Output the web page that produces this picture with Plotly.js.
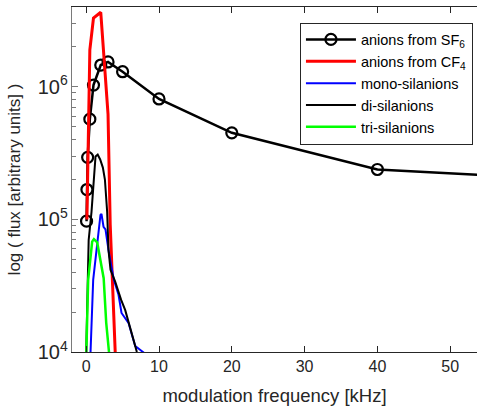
<!DOCTYPE html>
<html>
<head>
<meta charset="utf-8">
<script src="https://cdn.plot.ly/plotly-3.0.1.min.js"></script>
<style>
  html, body { margin: 0; padding: 0; background: #fff; overflow: hidden; }
  #chart { width: 477px; height: 409px; }
</style>
</head>
<body>
<div id="chart"></div>
<script>
// Modulation frequency (kHz) and measured flux (arbitrary units)
const sf6Freq = [0.05, 0.1, 0.2, 0.5, 1, 2, 3, 5, 10, 20, 40, 60];
const sf6Flux = [9.7e4, 1.68e5, 2.94e5, 5.7e5, 1.03e6, 1.46e6, 1.54e6, 1.3e6, 8.1e5, 4.5e5, 2.38e5, 2.08e5];

const cf4Freq = [0.1, 0.5, 1, 2, 3, 3.3, 4];
const cf4Flux = [1.0e5, 1.9e6, 3.3e6, 3.65e6, 6.2e5, 9.1e4, 9.5e3];

const monoFreq = [0.55, 0.96, 1.96, 2.1, 2.38, 2.65, 3.12, 3.8, 4.44, 4.85, 5.81, 6.73, 8.1];
const monoFlux = [8.5e3, 3.5e4, 1.08e5, 1.1e5, 8.8e4, 8.4e4, 5.6e4, 3.5e4, 2.7e4, 1.97e4, 1.66e4, 1.11e4, 9.7e3];

const diFreq = [0, 0.34, 0.73, 1.28, 1.58, 1.92, 2.29, 2.57, 2.88, 3.06, 3.34, 3.98, 4.8, 5.36, 6.04, 6.96];
const diFlux = [1.0e4, 7.0e4, 1.14e5, 2.98e5, 3.08e5, 2.83e5, 2.46e5, 2.0e5, 1.14e5, 5.9e4, 4.17e4, 3.4e4, 2.47e4, 2.07e4, 1.52e4, 1.0e4];

const triFreq = [0, 0.27, 0.82, 1.06, 1.51, 1.96, 2.4, 2.75, 3.12, 3.3];
const triFlux = [9.0e3, 3.5e4, 6.8e4, 7.1e4, 6.7e4, 5.0e4, 3.6e4, 1.66e4, 1.03e4, 8.0e3];

const seriesNames = ['anions from SF<sub>6</sub>', 'anions from CF<sub>4</sub>', 'mono-silanions', 'di-silanions', 'tri-silanions'];

const FONT = 'Liberation Sans, Arial, Helvetica, sans-serif';
const INK = '#262626';

const traces = [
  {
    x: sf6Freq, y: sf6Flux, name: seriesNames[0], mode: 'lines+markers',
    line: { color: '#000000', width: 2.5 },
    marker: { symbol: 'circle-open', size: 11, color: '#000000', line: { width: 2.2, color: '#000000' } }
  },
  { x: cf4Freq, y: cf4Flux, name: seriesNames[1], mode: 'lines', line: { color: '#ff0000', width: 3 } },
  { x: monoFreq, y: monoFlux, name: seriesNames[2], mode: 'lines', line: { color: '#0000ff', width: 2 } },
  { x: diFreq, y: diFlux, name: seriesNames[3], mode: 'lines', line: { color: '#000000', width: 2 } },
  { x: triFreq, y: triFlux, name: seriesNames[4], mode: 'lines', line: { color: '#00ff00', width: 2.5 } }
];

const layout = {
  width: 477, height: 409,
  margin: { l: 72, r: 0, t: 7, b: 57 },
  paper_bgcolor: '#ffffff', plot_bgcolor: '#ffffff',
  font: { family: FONT, size: 16, color: INK },
  showlegend: true,
  legend: {
    x: 0.99, xanchor: 'right', y: 0.955, yanchor: 'top',
    bgcolor: '#ffffff', bordercolor: INK, borderwidth: 1,
    font: { family: FONT, size: 14.5, color: '#000000' },
    itemwidth: 50
  },
  xaxis: {
    range: [-1.95, 53.68], showgrid: false, zeroline: false,
    tickvals: [0, 10, 20, 30, 40, 50], ticktext: ['0', '10', '20', '30', '40', '50'],
    ticks: 'inside', ticklen: 6, tickcolor: INK,
    showline: true, linecolor: INK, linewidth: 1, mirror: 'ticks',
    tickfont: { size: 16, color: INK },
    title: { text: 'modulation frequency [kHz]', font: { size: 18.5, color: INK }, standoff: 14 }
  },
  yaxis: {
    type: 'log', range: [4, Math.log10(4e6)], showgrid: false, zeroline: false,
    dtick: 1, exponentformat: 'power',
    ticks: 'inside', ticklen: 6, tickcolor: '#7a7a7a',
    minor: { ticks: 'inside', ticklen: 4, dtick: 'D1', tickcolor: '#7a7a7a', showgrid: false },
    showline: true, linecolor: '#7a7a7a', linewidth: 1, mirror: false,
    tickfont: { size: 16, color: INK },
    title: { text: 'log ( flux [arbitrary units] )', font: { size: 17, color: INK }, standoff: 12 }
  }
};

Plotly.newPlot('chart', traces, layout, { displayModeBar: false, staticPlot: true });
</script>
</body>
</html>
